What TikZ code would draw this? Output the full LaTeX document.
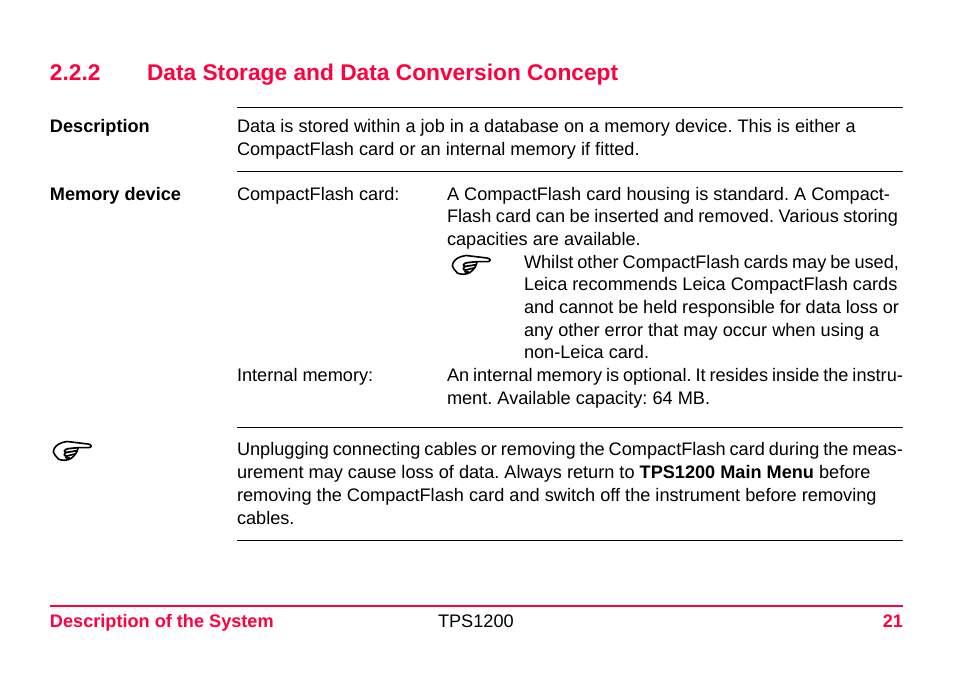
\documentclass[tikz,border=0pt]{standalone}
\usepackage{fontspec}
\setmainfont{Liberation Sans}
\usetikzlibrary{positioning}
\definecolor{leicared}{RGB}{255,0,64}
\newcommand{\fitline}[2]{\hbox to #1pt{\spaceskip=0.278em plus 1fil minus 1fil #2}}
\tikzset{x=0.75pt,y=-0.75pt,
        every node/.style={inner sep=0pt,outer sep=0pt,anchor=base west},
        body/.style={font=\fontsize{13.62pt}{16pt}\selectfont\frenchspacing,text=black},
        label/.style={font=\fontsize{13.6pt}{16pt}\selectfont\bfseries,text=black},
        heading/.style={font=\fontsize{17.05pt}{20pt}\selectfont\bfseries,text=leicared},
        foot/.style={font=\fontsize{13.6pt}{16pt}\selectfont\bfseries,text=leicared},
        rulebar/.style={draw=black,line width=0.75pt},
        pics/pointhand/.style={code={
            \draw[line width=1.2pt,line join=round,line cap=round]
                (17,5.5) -- (38,8) .. controls (42,8.5) and (42.5,11.7) .. (38,11.7) -- (28,11.7)
                .. controls (27.5,16) and (25,19.5) .. (21,22.5)
                .. controls (17,25) and (11,24.5) .. (8.3,23)
                -- (5,19) .. controls (3,17) and (3,15) .. (4,13)
                .. controls (6,9) and (10,6.5) .. (17,5.5);
            \draw[line width=1.3pt,line cap=round]
                (27.5,11.7) -- (18,12.7) .. controls (13.5,13.5) and (13.5,16.8) .. (17,16.3)
                -- (26.5,14.8)
                (17,16.3) .. controls (13.5,17) and (13.5,20.4) .. (17,20) -- (24.8,18)
                (17,20) .. controls (15,21) and (16,22.8) .. (19.5,22);
        }}
        }
\begin{document}
\begin{tikzpicture}
    \useasboundingbox[fill=white] (0,0) rectangle (954,677);

    % heading
    \node[heading] (num) at (50,80.5) {2.2.2};
    \node[heading] (title) at (147,80.5) {Data Storage and Data Conversion Concept};

    % rules
    \coordinate (r1a) at (237,107.5);  \coordinate (r1b) at (903,107.5);
    \coordinate (r2a) at (237,171.5);  \coordinate (r2b) at (903,171.5);
    \coordinate (r3a) at (237,428);  \coordinate (r3b) at (903,428);
    \coordinate (r4a) at (237,540.6);  \coordinate (r4b) at (903,540.6);
    \coordinate (r5a) at (50,606);   \coordinate (r5b) at (903,606);
    \draw[rulebar] (r1a) -- (r1b);
    \draw[rulebar] (r2a) -- (r2b);
    \draw[rulebar] (r3a) -- (r3b);
    \draw[rulebar] (r4a) -- (r4b);
    \draw[draw=leicared,line width=1.5pt] (r5a) -- (r5b);

    % description
    \node[label] (desc) at (50,133) {Description};
    \node[body] (d1) at (237,133) {Data is stored within a job in a database on a memory device. This is either a};
    \node[body] (d2) at (237,156) {CompactFlash card or an internal memory if fitted.};

    % memory device
    \node[label] (mem) at (50,201) {Memory device};
    \node[body] (cf) at (237,201) {CompactFlash card:};
    \node[body] (c1) at (447,201) {A CompactFlash card housing is standard. A Compact-};
    \node[body] (c2) at (447,223) {\fitline{338.25}{Flash card can be inserted and removed. Various storing}};
    \node[body] (c3) at (447,246) {capacities are available.};
    \pic at (449,250) {pointhand};
    \node[body] (n1) at (524,269) {\fitline{281.25}{Whilst other CompactFlash cards may be used,}};
    \node[body] (n2) at (524,291) {Leica recommends Leica CompactFlash cards};
    \node[body] (n3) at (524,314) {\fitline{281.25}{and cannot be held responsible for data loss or}};
    \node[body] (n4) at (524,337) {any other error that may occur when using a};
    \node[body] (n5) at (524,359) {non-Leica card.};
    \node[body] (im) at (237,382) {Internal memory:};
    \node[body] (i1) at (447,382) {\fitline{342}{An internal memory is optional. It resides inside the instru-}};
    \node[body] (i2) at (447,405) {ment. Available capacity: 64 MB.};

    % warning
    \pic at (50,436) {pointhand};
    \node[body] (u1) at (237,455.5) {\fitline{499.5}{Unplugging connecting cables or removing the CompactFlash card during the meas-}};
    \node[body] (u2) at (237,479) {urement may cause loss of data. Always return to {\fontsize{13.6pt}{16pt}\selectfont\bfseries TPS1200 Main Menu} before};
    \node[body] (u3) at (237,502) {removing the CompactFlash card and switch off the instrument before removing};
    \node[body] (u4) at (237,524.5) {cables.};

    % footer
    \node[foot] (f1) at (50,627) {Description of the System};
    \node[body] (f2) at (438,627) {TPS1200};
    \node[foot,anchor=base east] (f3) at (903,627) {21};
\end{tikzpicture}
\end{document}
